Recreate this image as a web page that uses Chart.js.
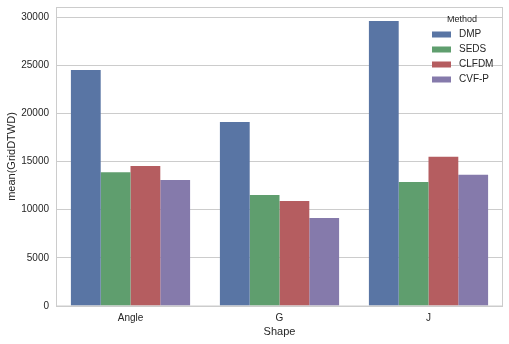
<!DOCTYPE html>
<html>
<head>
<meta charset="utf-8">
<script src="https://cdn.jsdelivr.net/npm/chart.js@4/dist/chart.umd.min.js"></script>
<style>
  html, body { margin: 0; padding: 0; background: #fff; }
  #wrap { width: 509px; height: 344px; position: relative; }
</style>
</head>
<body>
<div id="wrap"><canvas id="shapeChart"></canvas></div>
<script>
'use strict';

var shapes = ['Angle', 'G', 'J'];
var methods = ['DMP', 'SEDS', 'CLFDM', 'CVF-P'];
var dmpValues = [24500, 19100, 29600];
var sedsValues = [13900, 11530, 12880];
var clfdmValues = [14540, 10900, 15500];
var cvfpValues = [13080, 9140, 13630];
var yTicks = [0, 5000, 10000, 15000, 20000, 25000, 30000];

var methodColors = ['#5975a4', '#5f9e6e', '#b55d60', '#857aab'];
var allValues = [dmpValues, sedsValues, clfdmValues, cvfpValues];
var fontFamily = '"Liberation Sans", Arial, sans-serif';

var datasets = [];
for (var i = 0; i < methods.length; i++) {
  datasets.push({
    label: methods[i],
    data: allValues[i],
    backgroundColor: methodColors[i],
    borderWidth: 0,
    categoryPercentage: 0.8,
    barPercentage: 1.0
  });
}

// frame round the plot and the legend in the top right corner
var framePlugin = {
  id: 'frame',
  afterDraw: function(chart) {
    var c = chart.ctx;
    var a = chart.chartArea;
    c.save();
    c.strokeStyle = '#cccccc';
    c.lineWidth = 1;
    c.strokeRect(a.left + 0.5, a.top + 0.5, a.right - a.left - 1, a.bottom - a.top - 0.5);

    c.fillStyle = '#262626';
    c.font = '9px ' + fontFamily;
    c.textAlign = 'center';
    c.textBaseline = 'middle';
    c.fillText('Method', 462, 20);
    c.font = '10px ' + fontFamily;
    c.textAlign = 'left';
    for (var j = 0; j < methods.length; j++) {
      var y = 34.5 + j * 15;
      c.fillStyle = methodColors[j];
      c.fillRect(432, y - 3, 19, 6);
      c.fillStyle = '#262626';
      c.fillText(methods[j], 459, y);
    }
    c.restore();
  }
};

var ctx = document.getElementById('shapeChart').getContext('2d');
var myChart = new Chart(ctx, {
  type: 'bar',
  data: { labels: shapes, datasets: datasets },
  plugins: [framePlugin],
  options: {
    responsive: true,
    maintainAspectRatio: false,
    animation: false,
    layout: { padding: { left: 0, top: 1, right: 6, bottom: 0 } },
    plugins: {
      legend: { display: false },
      tooltip: { enabled: false }
    },
    scales: {
      x: {
        grid: { display: false, drawTicks: false },
        border: { display: false },
        ticks: { color: '#262626', font: { family: fontFamily, size: 10 }, padding: 6 },
        title: {
          display: true, text: 'Shape', color: '#262626',
          font: { family: fontFamily, size: 11 }, padding: { top: 5, bottom: 5 }
        },
        afterFit: function(scale) { scale.height = 38; }
      },
      y: {
        min: 0,
        max: 31050,
        afterBuildTicks: function(scale) {
          scale.ticks = yTicks.map(function(v) { return { value: v }; });
        },
        grid: { color: '#cccccc', lineWidth: 1, drawTicks: true, tickLength: 6, tickColor: 'rgba(0,0,0,0)' },
        border: { display: false },
        ticks: {
          color: '#262626', font: { family: fontFamily, size: 10 }, padding: 1,
          callback: function(v) { return String(v); }
        },
        title: {
          display: true, text: 'mean(GridDTWD)', color: '#262626',
          font: { family: fontFamily, size: 11 }, padding: { top: 5, bottom: 0 }
        },
        afterFit: function(scale) { scale.width = 56; }
      }
    }
  }
});
</script>
</body>
</html>
